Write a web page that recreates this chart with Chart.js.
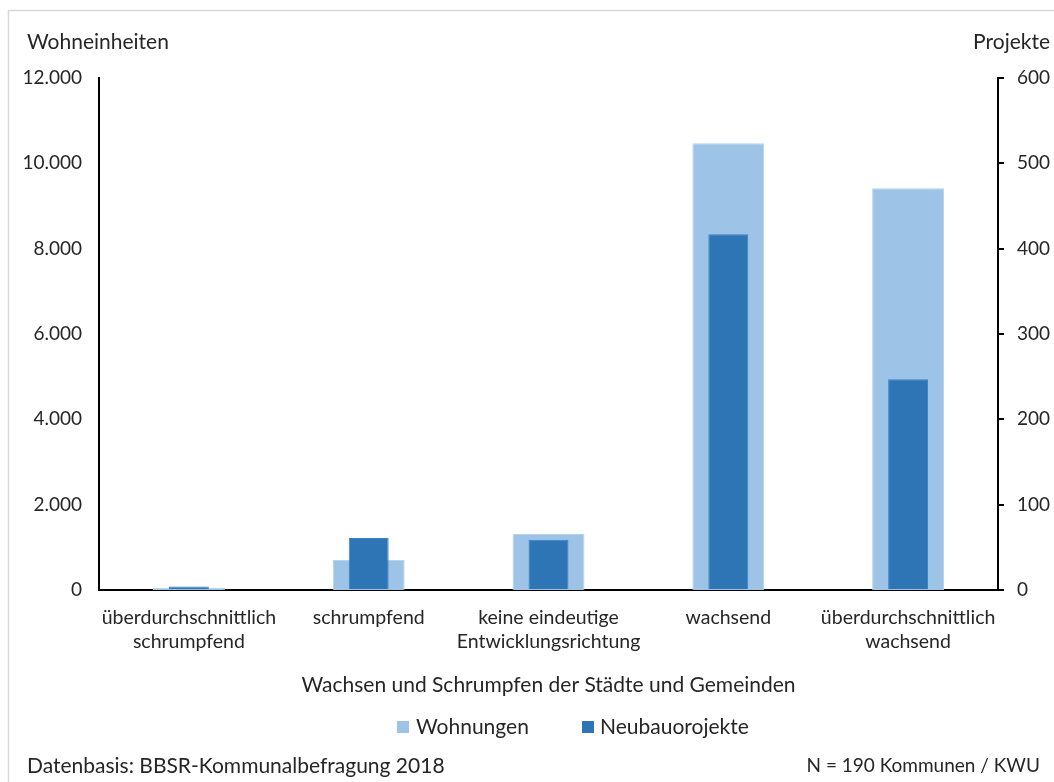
<!DOCTYPE html>
<html>
<head>
<meta charset="utf-8">
<script src="https://cdn.jsdelivr.net/npm/chart.js@4.4.1/dist/chart.umd.min.js"></script>
<style>
  html, body { margin: 0; padding: 0; background: #fff; }
  canvas { display: block; }
</style>
</head>
<body>
<canvas id="chart" width="1054" height="782"></canvas>
<script>
// Chart data
const categories = [
    ['überdurchschnittlich', 'schrumpfend'],
    'schrumpfend',
    ['keine eindeutige', 'Entwicklungsrichtung'],
    'wachsend',
    ['überdurchschnittlich', 'wachsend']
];
const wohnungen = [55, 703, 1312, 10470, 9415];      // left axis, Wohneinheiten
const neubauprojekte = [4, 61, 59, 417, 247];        // right axis, Projekte
const leftMax = 12000;
const leftStep = 2000;
const rightMax = 600;
const rightStep = 100;

const FONT = 'Lato, "Open Sans", sans-serif';
const TEXT = '#262626';
const LIGHT = '#9DC3E6';
const DARK = '#2E75B6';

// German thousands separator
function formatDe(value) {
    return String(value).replace(/\B(?=(\d{3})+(?!\d))/g, '.');
}

// Frame, corner titles, legend and footer
const decorations = {
    id: 'decorations',
    beforeDraw(chart) {
        const ctx = chart.ctx;
        ctx.save();
        ctx.fillStyle = '#fff';
        ctx.fillRect(0, 0, chart.width, chart.height);
        ctx.strokeStyle = '#d9d9d9';
        ctx.lineWidth = 1.5;
        ctx.strokeRect(8.5, 10.5, chart.width + 10, chart.height + 10);
        ctx.restore();
    },
    afterDraw(chart) {
        const ctx = chart.ctx;
        ctx.save();
        ctx.font = `21px ${FONT}`;
        ctx.fillStyle = TEXT;
        ctx.textBaseline = 'middle';

        ctx.textAlign = 'left';
        ctx.fillText('Wohneinheiten', 27, 42);
        ctx.fillText('Datenbasis: BBSR-Kommunalbefragung 2018', 27, 766);
        ctx.textAlign = 'right';
        ctx.fillText('Projekte', 1050, 42);
        ctx.font = `19px ${FONT}`;
        ctx.fillText('N = 190 Kommunen / KWU', 1040, 766);

        // legend, in dataset colours
        const items = [
            { ds: chart.data.datasets[1], box: 397, text: 416 },
            { ds: chart.data.datasets[0], box: 582, text: 600 }
        ];
        ctx.font = `21px ${FONT}`;
        ctx.textAlign = 'left';
        items.forEach(item => {
            ctx.fillStyle = item.ds.backgroundColor;
            ctx.fillRect(item.box, 721, 12, 12);
            ctx.fillStyle = TEXT;
            ctx.fillText(item.ds.label, item.text, 727);
        });
        ctx.restore();
    }
};

new Chart(document.getElementById('chart'), {
    type: 'bar',
    data: {
        labels: categories,
        datasets: [
            {
                label: 'Neubauorojekte',
                data: neubauprojekte,
                yAxisID: 'yRight',
                backgroundColor: DARK,
                borderColor: '#3d82c2',
                borderWidth: 1,
                grouped: false,
                categoryPercentage: 1,
                barPercentage: 0.222
            },
            {
                label: 'Wohnungen',
                data: wohnungen,
                yAxisID: 'yLeft',
                backgroundColor: LIGHT,
                borderColor: '#b4d3ee',
                borderWidth: 1,
                grouped: false,
                categoryPercentage: 1,
                barPercentage: 0.4
            }
        ]
    },
    options: {
        responsive: false,
        animation: false,
        devicePixelRatio: 1,
        layout: { padding: { top: 78, bottom: 85, left: 0, right: 0 } },
        plugins: {
            legend: { display: false },
            tooltip: { enabled: false }
        },
        scales: {
            x: {
                grid: { display: false },
                border: { display: true, color: '#000', width: 2 },
                ticks: {
                    color: TEXT,
                    font: { family: FONT, size: 19.5, lineHeight: 1.23 },
                    padding: 8,
                    maxRotation: 0,
                    autoSkip: false
                },
                title: {
                    display: true,
                    text: 'Wachsen und Schrumpfen der Städte und Gemeinden',
                    color: TEXT,
                    font: { family: FONT, size: 21, lineHeight: 1.15 },
                    padding: { top: 0, bottom: 0 }
                },
                afterFit(scale) { scale.height = 107; }
            },
            yLeft: {
                position: 'left',
                min: 0,
                max: leftMax,
                grid: { display: false },
                border: { display: true, color: '#000', width: 2 },
                ticks: {
                    stepSize: leftStep,
                    color: TEXT,
                    font: { family: FONT, size: 19 },
                    padding: 9,
                    callback: v => formatDe(v)
                },
                afterFit(scale) { scale.width = 99; }
            },
            yRight: {
                position: 'right',
                min: 0,
                max: rightMax,
                grid: {
                    display: true,
                    drawOnChartArea: false,
                    drawTicks: true,
                    tickLength: 6,
                    color: '#000',
                    lineWidth: 2
                },
                border: { display: true, color: '#000', width: 2 },
                ticks: {
                    stepSize: rightStep,
                    color: TEXT,
                    font: { family: FONT, size: 19 },
                    padding: 13
                },
                afterFit(scale) { scale.width = 56; }
            }
        }
    },
    plugins: [decorations]
});
</script>
</body>
</html>
